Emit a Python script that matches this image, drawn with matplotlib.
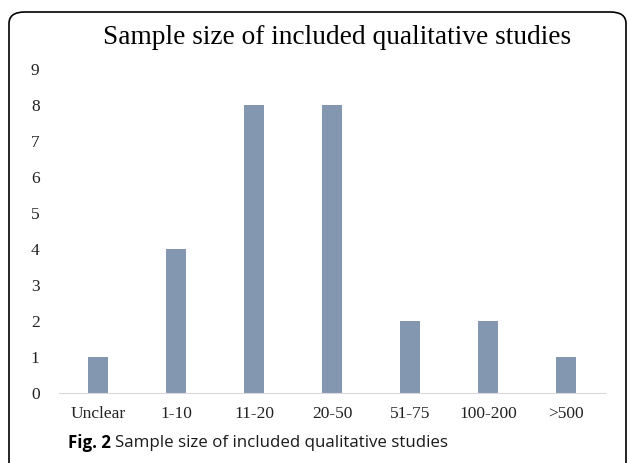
import matplotlib.pyplot as plt
from matplotlib.patches import FancyBboxPatch

# date
categorii = ['Unclear', '1-10', '11-20', '20-50', '51-75', '100-200', '>500']
numar_studii = [1, 4, 8, 8, 2, 2, 1]
valori_y = list(range(0, 10))

fig = plt.figure(figsize=(6.29, 4.63), dpi=100)
W, H = 629, 463

# chenar rotunjit
chenar = FancyBboxPatch((9 / W, -20 / H), 617 / W, (H - 12 + 20) / H,
                        boxstyle='round,pad=0,rounding_size=0.025',
                        transform=fig.transFigure, fill=False,
                        edgecolor='black', linewidth=1.2)
fig.patches.append(chenar)

ax = fig.add_axes([59 / W, 1 - 393 / H, (605 - 59) / W, (393 - 69) / H])
x = range(len(categorii))
ax.bar(x, numar_studii, width=0.26, color='#8497B0')
ax.set_xlim(-0.5, len(categorii) - 0.5)
ax.set_ylim(0, 9)
ax.set_yticks(valori_y)
ax.set_xticks(list(x))
ax.set_xticklabels(categorii)
for s in ['top', 'right', 'left']:
    ax.spines[s].set_visible(False)
ax.spines['bottom'].set_color('#d9d9d9')
ax.tick_params(axis='both', length=0, labelsize=12.5, colors='#222222')
ax.tick_params(axis='x', pad=9)
ax.tick_params(axis='y', pad=14)
for lbl in ax.get_xticklabels() + ax.get_yticklabels():
    lbl.set_family('Liberation Serif')

fig.text(337 / W, 1 - 38 / H, 'Sample size of included qualitative studies',
         ha='center', va='center', fontsize=19.7, family='Liberation Serif')

fig.text(68 / W, 1 - 443 / H, 'Fig. 2', ha='left', va='center', fontsize=12.2,
         fontweight='bold', family='Open Sans')
fig.text(115 / W, 1 - 443 / H, 'Sample size of included qualitative studies',
         ha='left', va='center', fontsize=12.2, family='Open Sans', color='#1a1a1a')

fig.savefig('out.png', dpi=100)
